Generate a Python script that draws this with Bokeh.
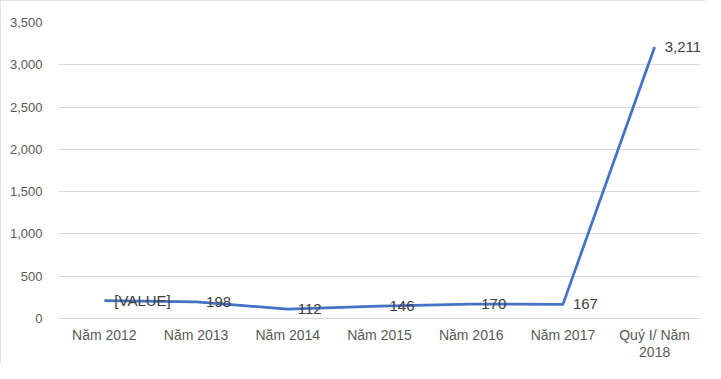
from bokeh.plotting import figure
from bokeh.models import ColumnDataSource, FactorRange, NumeralTickFormatter, SingleIntervalTicker, LabelSet
from bokeh.core.properties import value
from bokeh.embed import file_html
from bokeh.resources import INLINE

categories = ["Năm 2012", "Năm 2013", "Năm 2014", "Năm 2015", "Năm 2016", "Năm 2017", "Quý I/ Năm\n2018"]
values = [211, 198, 112, 146, 170, 167, 3211]
label_texts = ["[VALUE]", "198", "112", "146", "170", "167", "3,211"]
y_ticks_step = 500
y_max = 3500

src = ColumnDataSource(dict(cat=categories, val=values, lab=label_texts))

p = figure(width=705, height=363, x_range=FactorRange(*categories, range_padding=0),
           y_range=(0, y_max), output_backend="svg", toolbar_location=None,
           min_border_left=58, min_border_right=5, min_border_top=22, min_border_bottom=43)
p.styles = {"outline": "1px solid #d9d9d9", "outline-offset": "-1px"}
p.outline_line_color = None
p.background_fill_color = "white"

p.line("cat", "val", source=src, line_color="#4472C4", line_width=2.75, line_join="round")
labels = LabelSet(x="cat", y="val", text="lab", source=src, x_offset=10, text_align="left",
                  text_baseline="middle", text_color="#404040", text_font_size="15px",
                  text_font=value("Liberation Sans"))
p.add_layout(labels)

p.xgrid.grid_line_color = None
p.ygrid.grid_line_color = "#d9d9d9"
p.yaxis.ticker = SingleIntervalTicker(interval=y_ticks_step)
p.yaxis.formatter = NumeralTickFormatter(format="0,0")
for ax in (p.xaxis, p.yaxis):
    ax.axis_line_color = None
    ax.major_tick_line_color = None
    ax.minor_tick_line_color = None
    ax.major_tick_out = 0
    ax.major_tick_in = 0
    ax.minor_tick_out = 0
    ax.minor_tick_in = 0
    ax.major_label_text_color = "#595959"
    ax.major_label_text_font = "Liberation Sans"
p.yaxis.major_label_text_font_size = "13px"
p.xaxis.major_label_text_font_size = "14px"
p.xaxis.major_label_text_line_height = 1.1
p.xaxis.major_label_standoff = 8
p.xaxis.axis_line_color = "#d9d9d9"
p.yaxis.major_label_standoff = 16

open("out.html", "w").write(file_html(p, INLINE))
